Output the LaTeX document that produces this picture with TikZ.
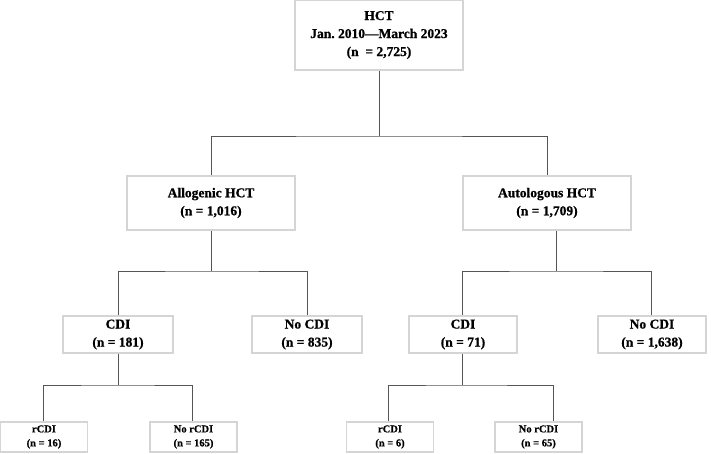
\documentclass[tikz,border=0pt]{standalone}
\usepackage{fontspec}
\setmainfont{Liberation Serif}
\newfontfamily\heavy[FakeBold=0.8,Ligatures=TeX]{Liberation Serif Bold}
\definecolor{boxgray}{HTML}{D5D5D5}
\definecolor{linegray}{HTML}{555555}
\tikzset{
  box/.style={draw=boxgray, line width=1.3pt, fill=white, align=center, inner sep=0pt,
    font=\heavy\frenchspacing\fontsize{13.5}{18}\selectfont},
  smallbox/.style={box, font=\heavy\frenchspacing\fontsize{10.5}{14}\selectfont},
  conn/.style={draw=linegray, line width=1pt}
}
\begin{document}
\begin{tikzpicture}[x=1pt,y=-1pt]
\useasboundingbox[fill=white] (0,0) rectangle (711,453);
% level 0
\node[box, minimum width=168pt, minimum height=70pt] (top) at (379,35) {HCT\\Jan. 2010—March 2023\\(n\ \ = 2,725)};
% level 1
\node[box, minimum width=168pt, minimum height=54pt] (allo) at (211,203) {Allogenic HCT\\(n = 1,016)};
\node[box, minimum width=168pt, minimum height=54pt] (auto) at (547,203) {Autologous HCT\\(n = 1,709)};
% level 2
\node[box, minimum width=110pt, minimum height=37pt] (cdiL) at (118,334.5) {CDI\\(n = 181)};
\node[box, minimum width=110pt, minimum height=37pt] (nocdiL) at (307,334.5) {No CDI\\(n = 835)};
\node[box, minimum width=108pt, minimum height=37pt] (cdiR) at (463,334.5) {CDI\\(n = 71)};
\node[box, minimum width=108pt, minimum height=37pt] (nocdiR) at (652,334.5) {No CDI\\(n = 1,638)};
% level 3
\node[smallbox, minimum width=87pt, minimum height=30pt] (rL) at (44,437) {rCDI\\(n = 16)};
\node[smallbox, minimum width=87pt, minimum height=30pt] (nrL) at (193.5,437) {No rCDI\\(n = 165)};
\node[smallbox, minimum width=87pt, minimum height=30pt] (rR) at (390,437) {rCDI\\(n = 6)};
\node[smallbox, minimum width=87pt, minimum height=30pt] (nrR) at (538.5,437) {No rCDI\\(n = 65)};
% connectors
\coordinate (j0) at (379,136);
\draw[conn] (top.south) -- (j0);
\draw[conn] (allo.north) |- (j0) -| (auto.north);
\coordinate (j1) at (211,271);
\draw[conn] (allo.south) -- (j1);
\draw[conn] (cdiL.north) |- (j1) -| (nocdiL.north);
\coordinate (j2) at (556,271);
\draw[conn] ([xshift=9pt]auto.south) -- (j2);
\draw[conn] ([xshift=-1pt]cdiR.north |- j2) -- (j2) -| ([xshift=-1pt]nocdiR.north);
\draw[conn] ([xshift=-1pt]cdiR.north |- j2) -- ([xshift=-1pt]cdiR.north);
\coordinate (j3) at (118,385);
\draw[conn] (cdiL.south) -- (j3);
\draw[conn] ([xshift=-1pt]rL.north) |- (j3) -| ([xshift=-1.5pt]nrL.north);
\coordinate (j4) at (462,385);
\draw[conn] ([xshift=-1pt]cdiR.south) -- (j4);
\draw[conn] ([xshift=-2pt]rR.north) |- (j4) -| ([xshift=14.5pt]nrR.north);
\end{tikzpicture}
\end{document}
